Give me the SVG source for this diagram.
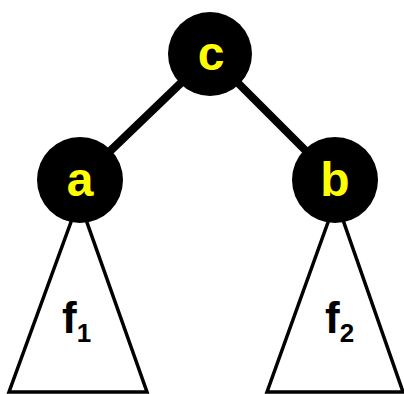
<svg xmlns="http://www.w3.org/2000/svg" width="404" height="394" viewBox="0 0 404 394">
<style>
.edge{stroke:#000;stroke-width:8;fill:none}
.tri{fill:#fff;stroke:#000;stroke-width:3.5;stroke-linejoin:miter}
.node{fill:#000}
.lbl{font-family:"Liberation Sans",Arial,sans-serif;font-weight:bold;font-size:48px;fill:#ffff00;text-anchor:middle}
.ft{font-family:"Liberation Sans",Arial,sans-serif;font-weight:bold;font-size:44px;fill:#000}
.sub{font-size:26px}
</style>
<rect width="404" height="394" fill="#fff"/>
<g id="tree-f1">
<polygon class="tri" points="79,200 9,392 147,392"/>
<text class="ft" x="62" y="333">f<tspan class="sub" dy="9">1</tspan></text>
</g>
<g id="tree-f2">
<polygon class="tri" points="336,200 267,392 403,392"/>
<text class="ft" x="325" y="333">f<tspan class="sub" dy="9">2</tspan></text>
</g>
<g id="connectors">
<line class="edge" x1="210" y1="55" x2="80" y2="180"/>
<line class="edge" x1="210" y1="55" x2="335" y2="180"/>
</g>
<g id="node-c">
<circle class="node" cx="210" cy="54" r="42"/>
<text class="lbl" x="211" y="70">c</text>
</g>
<g id="node-a">
<circle class="node" cx="80" cy="180" r="43"/>
<text class="lbl" x="80" y="196">a</text>
</g>
<g id="node-b">
<circle class="node" cx="335" cy="180" r="43"/>
<text class="lbl" x="335" y="196">b</text>
</g>
</svg>
